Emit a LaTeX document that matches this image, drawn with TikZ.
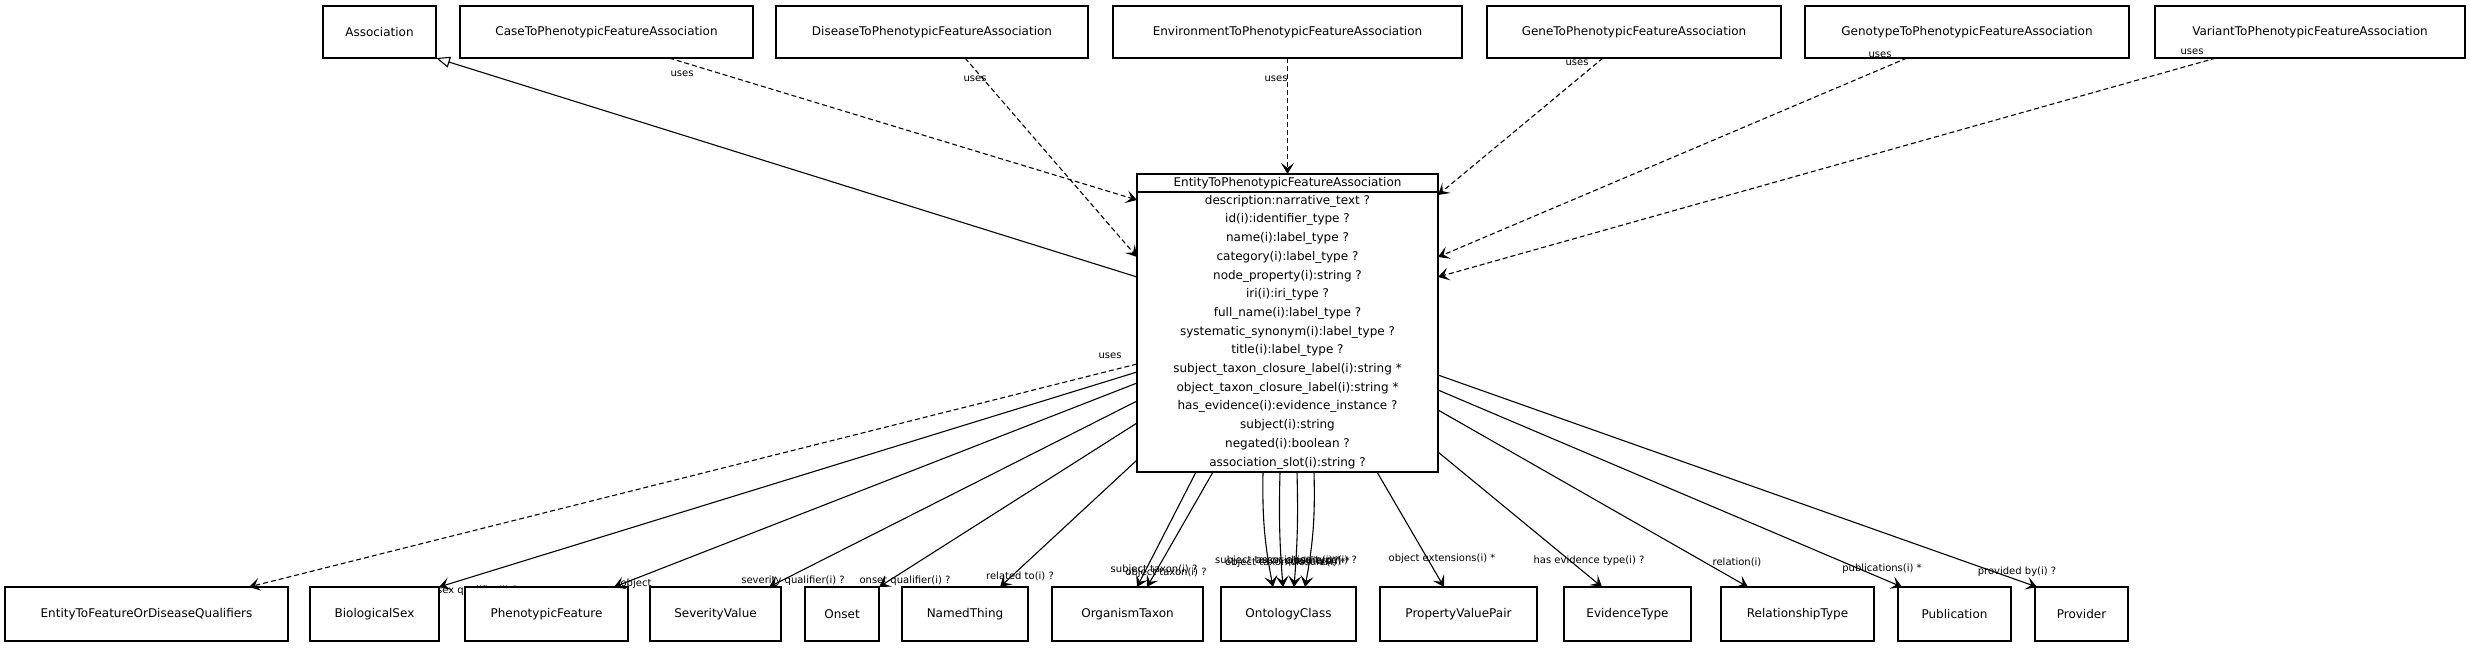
\documentclass[tikz,border=0pt]{standalone}
\usepackage{fontspec}
\setmainfont{DejaVu Sans}
\usetikzlibrary{positioning,calc,arrows.meta,backgrounds}

\begin{document}
\begin{tikzpicture}[
			x=1pt, y=-1pt,
			cls/.style={draw, fill=white, line width=1.2pt, outer sep=0pt, inner sep=2pt, anchor=north west, minimum height=52pt, font=\fontsize{12}{14}\selectfont},
			lbl/.style={font=\fontsize{10}{12}\selectfont, inner sep=0pt},
			link/.style={line width=1.1pt, -{Stealth[length=11pt, width=13pt, inset=5pt]}},
			uses/.style={link, dash pattern=on 5pt off 3pt},
			isa/.style={line width=1.1pt, -{Triangle[open, length=14pt, width=11pt]}},
		]
			\useasboundingbox (0,0) rectangle (2470,648);

			\node[cls, minimum width=113pt] (association) at (323,6) {Association};
			\node[cls, minimum width=293pt] (casepfa) at (460,6) {CaseToPhenotypicFeatureAssociation};
			\node[cls, minimum width=312pt] (diseasepfa) at (776,6) {DiseaseToPhenotypicFeatureAssociation};
			\node[cls, minimum width=349pt] (envpfa) at (1113,6) {EnvironmentToPhenotypicFeatureAssociation};
			\node[cls, minimum width=294pt] (genepfa) at (1487,6) {GeneToPhenotypicFeatureAssociation};
			\node[cls, minimum width=324pt] (genotypepfa) at (1805,6) {GenotypeToPhenotypicFeatureAssociation};
			\node[cls, minimum width=310pt] (variantpfa) at (2155,6) {VariantToPhenotypicFeatureAssociation};

			\node[cls, minimum width=301pt, minimum height=18pt] (enttitle) at (1137,174) {EntityToPhenotypicFeatureAssociation};
			\node[cls, minimum width=301pt, minimum height=280pt, below=0pt of enttitle, align=center, font=\fontsize{12}{18.7}\selectfont] (ent) {description:narrative\_text ?\\
				id(i):identifier\_type ?\\
				name(i):label\_type ?\\
				category(i):label\_type ?\\
				node\_property(i):string ?\\
				iri(i):iri\_type ?\\
				full\_name(i):label\_type ?\\
				systematic\_synonym(i):label\_type ?\\
				title(i):label\_type ?\\
				subject\_taxon\_closure\_label(i):string *\\
				object\_taxon\_closure\_label(i):string *\\
				has\_evidence(i):evidence\_instance ?\\
				subject(i):string\\
				negated(i):boolean ?\\
				association\_slot(i):string ?};

			\node[cls, minimum width=283pt, minimum height=54pt] (qualifiers) at (5,587) {EntityToFeatureOrDiseaseQualifiers};
			\node[cls, minimum width=129pt, minimum height=54pt] (biosex) at (310,587) {BiologicalSex};
			\node[cls, minimum width=163pt, minimum height=54pt] (phenofeature) at (465,587) {PhenotypicFeature};
			\node[cls, minimum width=131pt, minimum height=54pt] (severity) at (650,587) {SeverityValue};
			\node[cls, minimum width=74pt, minimum height=54pt] (onset) at (805,587) {Onset};
			\node[cls, minimum width=126pt, minimum height=54pt] (namedthing) at (902,587) {NamedThing};
			\node[cls, minimum width=151pt, minimum height=54pt] (taxon) at (1052,587) {OrganismTaxon};
			\node[cls, minimum width=135pt, minimum height=54pt] (ontclass) at (1221,587) {OntologyClass};
			\node[cls, minimum width=157pt, minimum height=54pt] (pvpair) at (1380,587) {PropertyValuePair};
			\node[cls, minimum width=127pt, minimum height=54pt] (evtype) at (1564,587) {EvidenceType};
			\node[cls, minimum width=153pt, minimum height=54pt] (reltype) at (1721,587) {RelationshipType};
			\node[cls, minimum width=113pt, minimum height=54pt] (publication) at (1898,587) {Publication};
			\node[cls, minimum width=93pt, minimum height=54pt] (provider) at (2035,587) {Provider};

			\draw[isa] ($(ent.north west)+(0,85)$) -- (association.south east);
			\draw[uses] ($(casepfa.south west)+(209,0)$) -- ($(ent.north west)+(0,8)$);
			\draw[uses] ($(diseasepfa.south west)+(189,0)$) -- ($(ent.north west)+(0,65)$);
			\draw[uses] (envpfa.south) -- (enttitle.north);
			\draw[uses] ($(genepfa.south west)+(116,0)$) -- ($(ent.north east)+(0,3)$);
			\draw[uses] ($(genotypepfa.south west)+(102,0)$) -- ($(ent.north east)+(0,65)$);
			\draw[uses] ($(variantpfa.south west)+(61,0)$) -- ($(ent.north east)+(0,85)$);
			\node[lbl] (lusescase) at (682,74) {uses};
			\node[lbl] (lusesdisease) at (975,79) {uses};
			\node[lbl] (lusesenv) at (1276,79) {uses};
			\node[lbl] (lusesgene) at (1577,63) {uses};
			\node[lbl] (lusesgenotype) at (1880,55) {uses};
			\node[lbl] (lusesvariant) at (2192,52) {uses};

			\begin{scope}[on background layer]
				\draw[link] ($(ent.north west)+(0,180)$) -- (biosex.north east);
				\node[lbl, anchor=west] (lsex) at (437,591) {sex qualifier(i) ?};
			\end{scope}

			\draw[uses] ($(ent.north west)+(0,172)$) -- ($(qualifiers.north west)+(244,0)$);
			\draw[link] ($(ent.north west)+(0,191)$) -- ($(phenofeature.north east)+(-14,0)$);
			\draw[link] ($(ent.north west)+(0,209)$) -- ($(severity.north east)+(-12,0)$);
			\draw[link] ($(ent.north west)+(0,231)$) -- (onset.north east);
			\draw[link] ($(ent.north west)+(0,268)$) -- ($(namedthing.north west)+(98,0)$);
			\draw[link] ($(ent.south west)+(59,0)$) -- ($(taxon.north west)+(85,0)$);
			\draw[link] ($(ent.south west)+(76,0)$) -- ($(taxon.north west)+(95,0)$);
			\draw[link] ($(ent.south west)+(126,0)$) to[bend right=6] ($(ontclass.north west)+(52,0)$);
			\draw[link] ($(ent.south west)+(143,0)$) to[bend right=3] ($(ontclass.north west)+(62,0)$);
			\draw[link] ($(ent.south west)+(160,0)$) to[bend left=3] ($(ontclass.north west)+(73,0)$);
			\draw[link] ($(ent.south west)+(177,0)$) to[bend left=6] ($(ontclass.north west)+(84,0)$);
			\draw[link] ($(ent.south west)+(240,0)$) -- ($(pvpair.north west)+(64,0)$);
			\draw[link] ($(ent.north east)+(0,260)$) -- ($(evtype.north west)+(38,0)$);
			\draw[link] ($(ent.north east)+(0,218)$) -- ($(reltype.north west)+(27,0)$);
			\draw[link] ($(ent.north east)+(0,198)$) -- ($(publication.north west)+(4,0)$);
			\draw[link] ($(ent.north east)+(0,183)$) -- ($(provider.north west)+(2,0)$);

			\node[lbl] (lusesqual) at (1110,356) {uses};
			\node[lbl] (lobject) at (636,584) {object};
			\node[lbl] (lseverity) at (793,581) {severity qualifier(i) ?};
			\node[lbl] (lonset) at (905,581) {onset qualifier(i) ?};
			\node[lbl] (lrelated) at (1020,576) {related to(i) ?};
			\node[lbl] (lsubjtaxon) at (1154,570) {subject taxon(i) ?};
			\node[lbl] (lobjtaxon) at (1166,573) {object taxon(i) ?};
			\node[lbl, anchor=west] (lsubjclosure) at (1215,561) {subject taxon closure(i) *};
			\node[lbl, anchor=west] (lobjclosure) at (1225,563) {object taxon closure(i) *};
			\node[lbl, anchor=east] (lassoctype) at (1357,561) {association type(i) ?};
			\node[lbl, anchor=east] (lqualifiers) at (1350,562) {qualifiers(i) *};
			\node[lbl] (lobjext) at (1442,559) {object extensions(i) *};
			\node[lbl] (lhasev) at (1589,561) {has evidence type(i) ?};
			\node[lbl] (lrelation) at (1737,562) {relation(i)};
			\node[lbl] (lpubs) at (1882,569) {publications(i) *};
			\node[lbl] (lprovided) at (2017,572) {provided by(i) ?};

		\end{tikzpicture}
\end{document}
